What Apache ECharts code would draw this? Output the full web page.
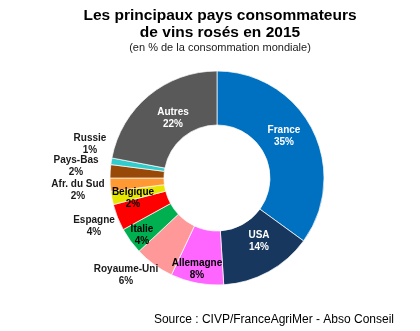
<!DOCTYPE html>
<html><head><meta charset="utf-8">
<script src="https://cdn.jsdelivr.net/npm/echarts@6/dist/echarts.min.js"></script>
<style>html,body{margin:0;padding:0;background:#fff}#c{width:420px;height:331px}</style>
</head><body><div id="c"></div>
<script>
var categories = ['France','USA','Allemagne','Royaume-Uni','Italie','Espagne','Belgique','Afr. du Sud','Pays-Bas','Russie','Autres'];
var values = [35,14,8,6,4,4,2,2,2,1,22];
var colors = ['#0070C0','#17375E','#FF66FF','#FF9999','#00B050','#FF0000','#E6E600','#FF9933','#984807','#33CCCC','#595959'];

var insideWhite = {'France':1,'USA':1,'Autres':1};
var outsidePos = {
  'Royaume-Uni':[126,275],
  'Espagne':[94,226],
  'Afr. du Sud':[78,190],
  'Pays-Bas':[76,166],
  'Russie':[90,144]
};
var insidePos = {
  'France':[284,136],
  'USA':[259,241],
  'Autres':[173,118],
  'Allemagne':[197,269],
  'Italie':[142,235],
  'Belgique':[133,198]
};
var data = categories.map(function(n,i){
  var item = {name:n, value:values[i], itemStyle:{color:colors[i]}};
  if (outsidePos[n]) {
    item.label = {position:'outside', color:'#1a1a1a'};
    item.labelLine = {show:false};
  } else {
    item.label = {position:'inside', color: insideWhite[n] ? '#ffffff' : '#000000'};
  }
  return item;
});
var chart = echarts.init(document.getElementById('c'));
chart.setOption({
  animation:false,
  title:[{
    text:'Les principaux pays consommateurs\nde vins rosés en 2015',
    left:215, top:2, textAlign:'center',
    textStyle:{fontFamily:'Liberation Sans', fontSize:15.5, fontWeight:'bold', color:'#000', lineHeight:17}
  },{
    text:'(en % de la consommation mondiale)',
    left:215, top:37, textAlign:'center',
    textStyle:{fontFamily:'Liberation Sans', fontSize:11, fontWeight:'normal', color:'#1a1a1a'}
  },{
    text:'Source : CIVP/FranceAgriMer - Abso Conseil',
    right:21, top:309,
    textStyle:{fontFamily:'Liberation Sans', fontSize:12, fontWeight:'normal', color:'#000'}
  }],
  series:[{
    type:'pie',
    center:[217,178],
    radius:[53,107],
    startAngle:90,
    clockwise:true,
    data:data,
    itemStyle:{borderColor:'#ffffff', borderWidth:0.7},
    label:{
      show:true,
      formatter:function(p){return p.name+'\n'+p.value+'%';},
      fontFamily:'Liberation Sans', fontSize:10, fontWeight:'bold', lineHeight:12, align:'center'
    },
    labelLayout:function(p){
      var n = categories[p.dataIndex];
      var pos = outsidePos[n] || insidePos[n];
      return {x:pos[0], y:pos[1], align:'center', verticalAlign:'middle'};
    }
  }]
});
</script></body></html>
